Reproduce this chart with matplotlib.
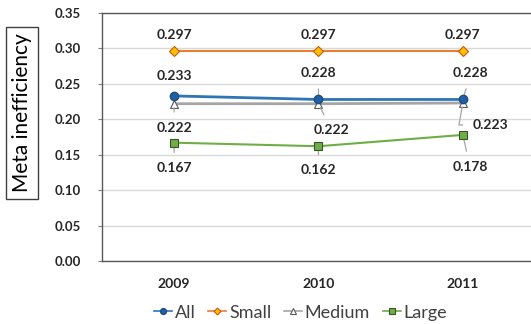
import matplotlib
matplotlib.use("Agg")
import matplotlib.pyplot as plt

plt.rcParams['font.family'] = ['Lato', 'DejaVu Sans']

years = ["2009", "2010", "2011"]
all_vals = [0.233, 0.228, 0.228]
small_vals = [0.297, 0.297, 0.297]
medium_vals = [0.222, 0.222, 0.223]
large_vals = [0.167, 0.162, 0.178]
y_ticks = [0.00, 0.05, 0.10, 0.15, 0.20, 0.25, 0.30, 0.35]

x = list(range(len(years)))

fig = plt.figure(figsize=(5.31, 3.24), dpi=100)
ax = fig.add_axes([0.192, 0.1944, 0.8155, 0.7654])

ax.plot(x, all_vals, color='#2E75B6', lw=2, marker='o', ms=6,
        mfc='#1F5FA8', mec='#1F4E79', label='All', zorder=4)
ax.plot(x, small_vals, color='#ED7D31', lw=1.5, marker='D', ms=5,
        mfc='#FFC000', mec='#C55A11', mew=0.8, label='Small', zorder=4)
ax.plot(x, medium_vals, color='#A5A5A5', lw=2, marker='^', ms=6,
        mfc='white', mec='#595959', mew=0.8, label='Medium', zorder=3)
ax.plot(x, large_vals, color='#70AD47', lw=1.5, marker='s', ms=6,
        mfc='#70AD47', mec='#375623', mew=0.8, label='Large', zorder=4)

lbl = dict(fontsize=10, fontweight='bold', color='#262626', ha='center', va='center')
lead = dict(arrowstyle='-', color='#A6A6A6', lw=0.9, shrinkA=5, shrinkB=3)

# Small: straight above
for i, v in enumerate(small_vals):
    ax.text(x[i], 0.319, f"{v:.3f}", **lbl)

# All: above, with leaders on 2010 and 2011
ax.text(x[0], 0.261, f"{all_vals[0]:.3f}", **lbl)
ax.annotate(f"{all_vals[1]:.3f}", (x[1], all_vals[1]), xytext=(x[1], 0.265),
            arrowprops=lead, **lbl)
ax.annotate(f"{all_vals[2]:.3f}", (x[2], all_vals[2]), xytext=(2.055, 0.265),
            arrowprops=lead, **lbl)

# Medium: below, pulled away from the All line
ax.annotate(f"{medium_vals[0]:.3f}", (x[0], medium_vals[0]), xytext=(x[0], 0.188),
            arrowprops=lead, **lbl)
ax.annotate(f"{medium_vals[1]:.3f}", (x[1], medium_vals[1]), xytext=(1.09, 0.185),
            arrowprops=lead, **lbl)
ax.annotate(f"{medium_vals[2]:.3f}", (x[2], medium_vals[2]), xytext=(2.19, 0.192),
            arrowprops=dict(lead, connectionstyle='angle,angleA=0,angleB=80,rad=0'),
            **lbl)

# Large: below
ax.annotate(f"{large_vals[0]:.3f}", (x[0], large_vals[0]), xytext=(x[0], 0.131),
            arrowprops=lead, **lbl)
ax.annotate(f"{large_vals[1]:.3f}", (x[1], large_vals[1]), xytext=(x[1], 0.128),
            arrowprops=lead, **lbl)
ax.annotate(f"{large_vals[2]:.3f}", (x[2], large_vals[2]), xytext=(2.05, 0.133),
            arrowprops=lead, **lbl)

ax.set_xlim(-0.5, 2.5)
ax.set_ylim(0, 0.35)
ax.set_xticks(x)
ax.set_xticklabels(years, fontsize=10, fontweight='bold', color='#262626')
ax.set_yticks(y_ticks)
ax.set_yticklabels([f"{t:.2f}" for t in y_ticks], fontsize=9.5,
                   fontweight='bold', color='#262626')
ax.tick_params(axis='x', length=0, pad=12)
ax.tick_params(axis='y', length=3, color='#7F7F7F', pad=12)
ax.grid(axis='y', color='#D9D9D9', lw=1)
ax.set_axisbelow(True)
for s in ['left', 'bottom', 'top']:
    ax.spines[s].set_color('#595959')
    ax.spines[s].set_linewidth(1)
ax.spines['right'].set_visible(False)

fig.text(0.0414, 0.651, "Meta inefficiency", rotation=90, fontsize=15,
         ha='center', va='center', color='black',
         bbox=dict(boxstyle='square,pad=0.3', fc='white', ec='#404040', lw=1))

leg = fig.legend(loc='center', bbox_to_anchor=(0.566, 0.035), ncol=4, frameon=False,
                 fontsize=13, handlelength=1.0, handletextpad=0.15, columnspacing=0.7,
                 markerscale=0.7, labelcolor='#404040', borderaxespad=0)
for h in leg.legend_handles:
    h.set_linewidth(1.2)

fig.savefig("out.png", dpi=100)
